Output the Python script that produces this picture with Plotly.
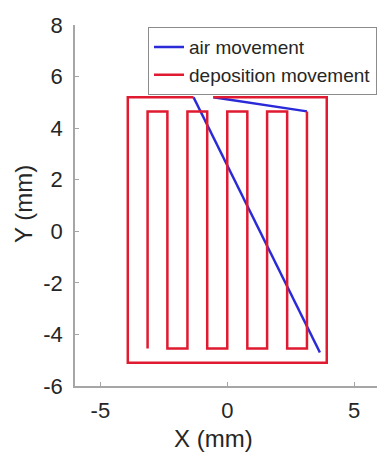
import plotly.graph_objects as go

# Deposition (red) path: serpentine, then outer rectangle (None = pen lift)
deposition_x = [-3.14, -3.14, -2.36, -2.36, -1.57, -1.57, -0.79, -0.79, 0.0, 0.0,
                0.79, 0.79, 1.57, 1.57, 2.36, 2.36, 3.14, 3.14,
                None,
                -0.55, 3.92, 3.92, -3.92, -3.92, -1.33]
deposition_y = [-4.55, 4.65, 4.65, -4.55, -4.55, 4.65, 4.65, -4.55, -4.55, 4.65,
                4.65, -4.55, -4.55, 4.65, 4.65, -4.55, -4.55, 4.65,
                None,
                5.2, 5.2, -5.1, -5.1, 5.2, 5.2]

# Air (blue) moves
air_x = [3.14, -0.55, None, -1.33, 3.65]
air_y = [4.65, 5.2, None, 5.2, -4.7]

x_ticks = [-5, 0, 5]
x_tick_labels = ["-5", "0", "5"]
y_ticks = [-6, -4, -2, 0, 2, 4, 6, 8]
y_tick_labels = ["-6", "-4", "-2", "0", "2", "4", "6", "8"]

FONT = "Liberation Sans, Arial, sans-serif"
TXT = "#262626"
AX = "#a6a6a6"

fig = go.Figure()
fig.add_trace(go.Scatter(x=air_x, y=air_y, mode="lines", name="air movement",
                         line=dict(color="#2a2ad8", width=2.5)))
fig.add_trace(go.Scatter(x=deposition_x, y=deposition_y, mode="lines",
                         name="deposition movement",
                         line=dict(color="#e01a30", width=2.5)))

fig.update_layout(
    width=377, height=460,
    margin=dict(l=75, r=0, t=25, b=74),
    paper_bgcolor="white", plot_bgcolor="white",
    font=dict(family=FONT, color=TXT),
    showlegend=True,
    legend=dict(x=0.242, y=0.994, xanchor="left", yanchor="top",
                bgcolor="white", bordercolor="#8c8c8c", borderwidth=1,
                font=dict(size=19, family=FONT, color=TXT),
                itemwidth=30, tracegroupgap=0),
    xaxis=dict(range=[-6, 5.9], tickvals=x_ticks, ticktext=x_tick_labels,
               showgrid=False, zeroline=False, automargin=False,
               showline=True, linecolor=AX, linewidth=1.5,
               ticks="inside", ticklen=4, tickcolor=AX, ticklabelstandoff=4,
               tickfont=dict(size=22, family=FONT, color=TXT)),
    yaxis=dict(range=[-6, 8], tickvals=y_ticks, ticktext=y_tick_labels,
               showgrid=False, zeroline=False, automargin=False,
               showline=True, linecolor=AX, linewidth=1.5,
               ticks="inside", ticklen=4, tickcolor=AX, ticklabelstandoff=6,
               tickfont=dict(size=22, family=FONT, color=TXT)),
    annotations=[
        dict(text="X (mm)", xref="paper", yref="paper", x=(213 - 75) / 302,
             y=-(438 - 386) / 361, xanchor="center", yanchor="middle",
             showarrow=False, font=dict(size=24, family=FONT, color=TXT)),
        dict(text="Y (mm)", xref="paper", yref="paper", x=-(75 - 23) / 302,
             y=(386 - 204) / 361, xanchor="center", yanchor="middle",
             textangle=-90, showarrow=False,
             font=dict(size=24, family=FONT, color=TXT)),
    ],
)

fig.write_html("out.html", config={"displayModeBar": False},
               post_script="document.body.style.margin='0';document.body.style.padding='0';")
